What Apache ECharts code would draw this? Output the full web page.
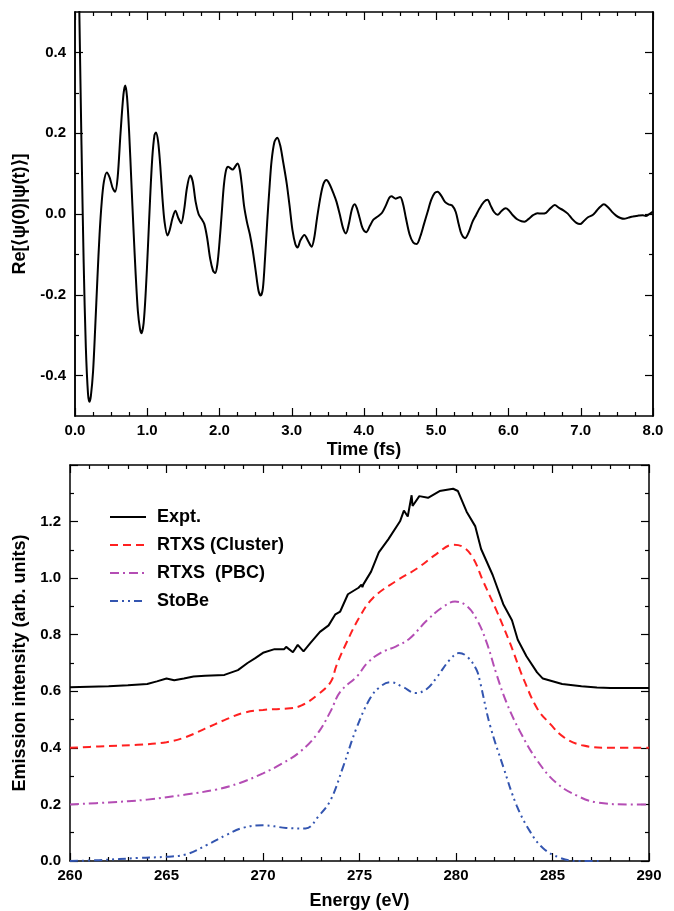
<!DOCTYPE html>
<html lang="en">

<head>
  <meta charset="UTF-8">
  <title>Autocorrelation and emission spectrum</title>
  <style>
    html,
    body {
      width: 100%;
      height: 100%;
      padding: 0;
      margin: 0;
      background: #fff;
    }

    #eChart {
      width: 674px;
      height: 911px;
    }
  </style>
</head>

<body>
  <div id="eChart"></div>

  <script src="https://cdn.jsdelivr.net/npm/echarts@6/dist/echarts.min.js"></script>
  <script>
    // top panel: Re<psi(0)|psi(t)>
    var timeFs = [0, 0.03, 0.06, 0.09, 0.12, 0.15, 0.18, 0.2, 0.22, 0.25, 0.28, 0.31, 0.34, 0.37, 0.4, 0.44, 0.48, 0.52, 0.555, 0.59,
      0.63, 0.67, 0.695, 0.72, 0.75, 0.78, 0.81, 0.84, 0.87, 0.9, 0.92, 0.95, 0.98, 1.01, 1.04, 1.07, 1.1, 1.12, 1.15, 1.18,
      1.21, 1.24, 1.28, 1.31, 1.35, 1.39, 1.43, 1.47, 1.51, 1.55, 1.595, 1.63, 1.67, 1.71, 1.75, 1.79, 1.83, 1.87, 1.91, 1.94,
      1.97, 2.0, 2.03, 2.06, 2.09, 2.12, 2.18, 2.25, 2.28, 2.31, 2.34, 2.38, 2.42, 2.46, 2.5, 2.54, 2.57, 2.6, 2.63, 2.66,
      2.69, 2.72, 2.76, 2.8, 2.84, 2.88, 2.93, 2.97, 3.01, 3.05, 3.08, 3.12, 3.175, 3.23, 3.275, 3.31, 3.35, 3.4, 3.44, 3.48,
      3.52, 3.58, 3.62, 3.67, 3.71, 3.75, 3.79, 3.83, 3.87, 3.9, 3.94, 3.98, 4.03, 4.08, 4.13, 4.2, 4.25, 4.3, 4.35, 4.38,
      4.44, 4.5, 4.54, 4.58, 4.63, 4.68, 4.73, 4.78, 4.83, 4.88, 4.93, 4.98, 5.02, 5.07, 5.12, 5.17, 5.22, 5.27, 5.31, 5.35,
      5.4, 5.45, 5.5, 5.55, 5.6, 5.66, 5.71, 5.75, 5.8, 5.85, 5.9, 5.96, 6.0, 6.06, 6.12, 6.18, 6.22, 6.28, 6.34, 6.4,
      6.46, 6.52, 6.58, 6.64, 6.7, 6.76, 6.82, 6.88, 6.94, 6.99, 7.04, 7.1, 7.17, 7.22, 7.27, 7.32, 7.37, 7.43, 7.49, 7.55,
      7.6, 7.66, 7.72, 7.8, 7.86, 7.9, 7.95, 8.0];
    var overlapRe = [1.0, 0.85, 0.5, 0.17, -0.12, -0.33, -0.445, -0.465, -0.45, -0.39, -0.28, -0.16, -0.05, 0.03, 0.08, 0.103, 0.09, 0.065, 0.055, 0.09,
      0.2, 0.295, 0.318, 0.29, 0.2, 0.08, -0.04, -0.15, -0.24, -0.285, -0.295, -0.27, -0.19, -0.08, 0.04, 0.14, 0.195, 0.202, 0.18, 0.12,
      0.04, -0.02, -0.053, -0.04, -0.01, 0.008, -0.01, -0.023, 0.01, 0.065, 0.095, 0.08, 0.03, 0.0, -0.012, -0.025, -0.06, -0.11, -0.14, -0.146,
      -0.125, -0.07, 0.0, 0.07, 0.108, 0.117, 0.11, 0.125, 0.11, 0.07, 0.02, -0.02, -0.05, -0.09, -0.14, -0.19, -0.202, -0.185, -0.11, -0.02,
      0.06, 0.13, 0.178, 0.189, 0.17, 0.13, 0.076, 0.02, -0.04, -0.075, -0.083, -0.065, -0.052, -0.068, -0.081, -0.06, -0.01, 0.045, 0.075, 0.084,
      0.075, 0.05, 0.03, -0.005, -0.035, -0.048, -0.025, 0.01, 0.024, 0.015, -0.01, -0.035, -0.045, -0.03, -0.014, -0.005, 0.003, 0.02, 0.04, 0.044,
      0.038, 0.042, 0.025, -0.01, -0.05, -0.07, -0.074, -0.055, -0.025, 0.005, 0.035, 0.052, 0.055, 0.045, 0.03, 0.024, 0.021, 0.005, -0.025, -0.05,
      -0.06, -0.045, -0.02, -0.003, 0.014, 0.03, 0.035, 0.022, 0.005, -0.002, 0.007, 0.014, 0.01, -0.003, -0.013, -0.018, -0.019, -0.012, -0.003, 0.002,
      0.001, 0.003, 0.014, 0.022, 0.015, 0.009, 0.001, -0.012, -0.022, -0.025, -0.018, -0.008, -0.002, 0.008, 0.018, 0.024, 0.018, 0.006, -0.004, -0.01,
      -0.012, -0.009, -0.006, -0.004, -0.003, -0.005, 0.0, 0.006];
    var topYMajor = [-0.4, -0.2, 0, 0.2, 0.4];
    var topYMinor = [-0.3, -0.1, 0.1, 0.3];

    // bottom panel: emission spectra
    var exptE = [260, 261, 262, 263, 264, 264.5, 265, 265.4, 265.9, 266.4, 267, 268, 268.7, 269.2, 269.6, 270.0, 270.6, 271.1, 271.2, 271.55,
      271.8, 272.1, 272.45, 272.95, 273.4, 273.75, 274.0, 274.4, 274.95, 275.1, 275.15, 275.2, 275.6, 276.0, 276.5, 277.1, 277.3, 277.5, 277.7, 277.75,
      278.1, 278.55, 279.15, 279.85, 280.1, 280.55, 281.0, 281.3, 281.9, 282.45, 282.9, 283.2, 283.65, 284.2, 284.5, 285.5, 286.5, 287.3, 288, 290];
    var exptI = [0.614, 0.616, 0.618, 0.621, 0.626, 0.635, 0.645, 0.639, 0.645, 0.652, 0.655, 0.658, 0.675, 0.700, 0.717, 0.736, 0.749, 0.749, 0.757, 0.738,
      0.764, 0.741, 0.770, 0.810, 0.833, 0.872, 0.882, 0.943, 0.966, 0.977, 0.968, 0.978, 1.023, 1.091, 1.138, 1.201, 1.239, 1.218, 1.293, 1.255,
      1.290, 1.284, 1.308, 1.316, 1.308, 1.235, 1.183, 1.103, 1.011, 0.908, 0.851, 0.782, 0.724, 0.667, 0.645, 0.626, 0.618, 0.613, 0.612, 0.612];

    var clusterE = [260, 261.5, 263.5, 265, 266, 267, 268, 269, 270, 271.4, 272, 272.8, 273.5, 273.8, 274.3, 275, 275.7, 276.9, 278, 279,
      279.85, 280.4, 280.9, 281.4, 282.1, 282.8, 283.3, 283.5, 284.2, 284.9, 285.6, 286.6, 288, 290];
    var clusterI = [0.4, 0.405, 0.411, 0.42, 0.438, 0.468, 0.498, 0.524, 0.534, 0.54, 0.55, 0.586, 0.632, 0.69, 0.768, 0.862, 0.93, 0.99, 1.035, 1.086,
      1.118, 1.109, 1.069, 0.99, 0.885, 0.77, 0.678, 0.643, 0.54, 0.483, 0.437, 0.408, 0.4, 0.4];

    var pbcE = [260, 262, 264, 266, 267.6, 268.8, 270, 271, 271.9, 272.8, 273.5, 274, 274.9, 275.4, 276.1, 276.9, 277.6, 278.5, 279.3, 279.95,
      280.55, 281.1, 281.6, 282.1, 282.6, 283.3, 284.2, 285.2, 286.3, 287.3, 289, 290];
    var pbcI = [0.2, 0.207, 0.217, 0.235, 0.253, 0.276, 0.31, 0.345, 0.385, 0.448, 0.529, 0.598, 0.655, 0.7, 0.736, 0.759, 0.787, 0.851, 0.897, 0.917,
      0.902, 0.851, 0.77, 0.66, 0.563, 0.46, 0.356, 0.276, 0.23, 0.207, 0.2, 0.2];

    var stobeE = [260, 261.5, 263.6, 265, 266, 267.1, 268.1, 269, 270, 271.2, 272.2, 272.9, 273.5, 274.15, 274.85, 275.55, 276.05, 276.6, 277.25, 277.9,
      278.5, 279.0, 279.7, 280.15, 280.55, 281.05, 281.25, 281.75, 282.45, 283.15, 283.85, 284.5, 285.4, 286.3, 287.5];
    var stobeI = [0.0, 0.003, 0.011, 0.015, 0.023, 0.057, 0.092, 0.118, 0.126, 0.117, 0.115, 0.16, 0.215, 0.333, 0.471, 0.575, 0.615, 0.632, 0.615, 0.594,
      0.609, 0.649, 0.713, 0.735, 0.724, 0.678, 0.632, 0.483, 0.333, 0.195, 0.103, 0.046, 0.011, 0.0, 0.0];

    function pairs(xs, ys) {
      return xs.map(function (x, i) { return [x, ys[i]]; });
    }

    window.onload = function () {
      var chart = echarts.init(document.getElementById('eChart'), null, { renderer: 'canvas' });
      var font = '"Liberation Sans", Arial, sans-serif';
      var black = '#000';
      var lineAx = { show: true, onZero: false, lineStyle: { color: black, width: 1.5 } };
      var label = { color: black, fontFamily: font, fontWeight: 'bold', fontSize: 15 };
      var nameStyle = { color: black, fontFamily: font, fontWeight: 'bold', fontSize: 18 };

      // x axis with inside ticks, labels only when 'labels' set
      function xAx(grid, pos, min, max, step, minorSplit, labels, fmt, name, gap) {
        return {
          type: 'value', gridIndex: grid, position: pos, min: min, max: max, interval: step,
          axisLine: lineAx,
          axisTick: { show: true, inside: true, length: 8, lineStyle: { color: black, width: 1.2 } },
          minorTick: { show: true, splitNumber: minorSplit, length: 4, lineStyle: { color: black, width: 1.2 } },
          axisLabel: Object.assign({ show: labels, margin: 7, formatter: fmt }, label),
          splitLine: { show: false },
          name: name || '', nameLocation: 'middle', nameGap: gap || 30, nameTextStyle: nameStyle
        };
      }

      // top panel y: major ticks + separate minor tick axis
      function yTop(pos, values, len, labels, name) {
        return {
          type: 'value', gridIndex: 0, position: pos, min: -0.5, max: 0.5,
          axisLine: lineAx,
          axisTick: { show: true, inside: true, length: len, customValues: values, lineStyle: { color: black, width: 1.2 } },
          axisLabel: Object.assign({ show: labels, customValues: values, margin: 9, formatter: function (v) { return v.toFixed(1); } }, label),
          splitLine: { show: false },
          name: name || '', nameLocation: 'middle', nameGap: 42, nameRotate: 90, nameTextStyle: nameStyle
        };
      }

      function yBottom(pos, labels, name) {
        return {
          type: 'value', gridIndex: 1, position: pos, min: 0, max: 1.4, interval: 0.2,
          axisLine: lineAx,
          axisTick: { show: true, inside: true, length: 8, lineStyle: { color: black, width: 1.2 } },
          minorTick: { show: true, splitNumber: 2, length: 4, lineStyle: { color: black, width: 1.2 } },
          axisLabel: Object.assign({
            show: labels, margin: 9,
            formatter: function (v) { return v > 1.3 ? '' : v.toFixed(1); }
          }, label),
          splitLine: { show: false },
          name: name || '', nameLocation: 'middle', nameGap: 40, nameRotate: 90, nameTextStyle: nameStyle
        };
      }

      var f1 = function (v) { return v.toFixed(1); };
      var f0 = function (v) { return v.toFixed(0); };

      chart.setOption({
        animation: false,
        backgroundColor: '#fff',
        grid: [
          { left: 75, top: 12, right: 21, bottom: 495 },
          { left: 70, top: 465, right: 25, bottom: 41 }
        ],
        legend: {
          orient: 'vertical', left: 104, top: 503, itemWidth: 36, itemHeight: 14, itemGap: 10,
          itemStyle: { opacity: 0 },
          textStyle: { color: black, fontFamily: font, fontWeight: 'bold', fontSize: 18, padding: [0, 0, 0, 6] },
          data: ['Expt.', 'RTXS (Cluster)', 'RTXS  (PBC)', 'StoBe']
        },
        xAxis: [
          xAx(0, 'bottom', 0, 8, 1, 4, true, f1, 'Time (fs)', 25),
          xAx(0, 'top', 0, 8, 1, 4, false, f1),
          xAx(1, 'bottom', 260, 290, 5, 5, true, f0, 'Energy (eV)', 31),
          xAx(1, 'top', 260, 290, 5, 5, false, f0)
        ],
        yAxis: [
          yTop('left', topYMajor, 8, true, 'Re[\u27E8\u03C8(0)|\u03C8(t)\u27E9]'),
          yTop('left', topYMinor, 4, false),
          yTop('right', topYMajor, 8, false),
          yTop('right', topYMinor, 4, false),
          yBottom('left', true, 'Emission intensity (arb. units)'),
          yBottom('right', false)
        ],
        series: [
          {
            type: 'line', xAxisIndex: 0, yAxisIndex: 0, data: pairs(timeFs, overlapRe),
            smooth: 0.3, symbol: 'none', lineStyle: { color: black, width: 2 }
          },
          {
            name: 'Expt.', type: 'line', xAxisIndex: 2, yAxisIndex: 4, data: pairs(exptE, exptI),
            symbol: 'none', itemStyle: { color: black }, lineStyle: { color: black, width: 2 }
          },
          {
            name: 'RTXS (Cluster)', type: 'line', xAxisIndex: 2, yAxisIndex: 4, data: pairs(clusterE, clusterI),
            smooth: 0.4, symbol: 'none', itemStyle: { color: '#ff2020' },
            lineStyle: { color: '#ff2020', width: 2, type: [8, 5] }
          },
          {
            name: 'RTXS  (PBC)', type: 'line', xAxisIndex: 2, yAxisIndex: 4, data: pairs(pbcE, pbcI),
            smooth: 0.4, symbol: 'none', itemStyle: { color: '#b44db4' },
            lineStyle: { color: '#b44db4', width: 2, type: [9, 4, 2, 4] }
          },
          {
            name: 'StoBe', type: 'line', xAxisIndex: 2, yAxisIndex: 4, data: pairs(stobeE, stobeI),
            smooth: 0.4, symbol: 'none', itemStyle: { color: '#3355b0' },
            lineStyle: { color: '#3355b0', width: 2, type: [8, 4, 2, 4, 2, 4] }
          }
        ]
      });
    };
  </script>
</body>

</html>
